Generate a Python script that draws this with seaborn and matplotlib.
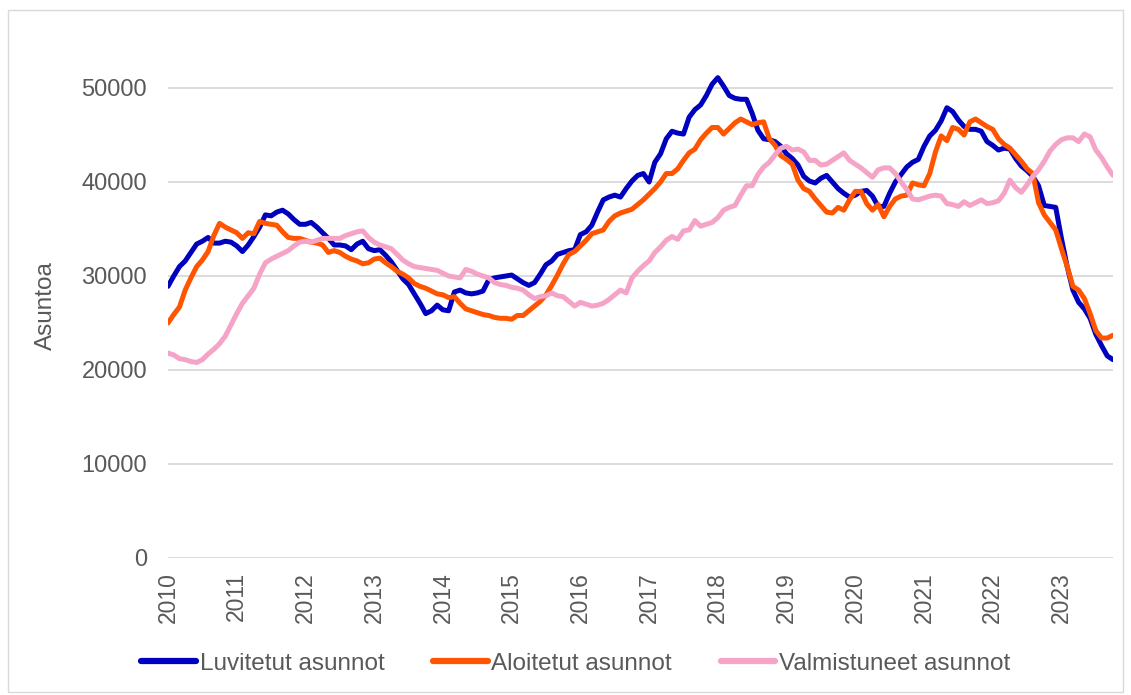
import matplotlib
matplotlib.use("Agg")
import matplotlib.pyplot as plt
import seaborn as sns
import pandas as pd
import numpy as np
from matplotlib.patches import Rectangle

# ---- data (thousands of dwellings, monthly 2010-01 .. 2023-10) ----
years = [str(y) for y in range(2010, 2024)]

luvitetut = [28.9, 30.0, 31.0, 31.6, 32.5, 33.4, 33.7, 34.1, 33.5, 33.5, 33.7, 33.6,
             33.2, 32.6, 33.3, 34.2, 35.2, 36.5, 36.4, 36.8, 37.0, 36.6, 36.0, 35.5,
             35.5, 35.7, 35.2, 34.6, 34.0, 33.3, 33.3, 33.2, 32.8, 33.4, 33.7, 32.9,
             32.7, 32.8, 32.2, 31.5, 30.6, 29.7, 29.1, 28.1, 27.1, 26.0, 26.3, 26.9,
             26.4, 26.3, 28.3, 28.5, 28.2, 28.1, 28.2, 28.4, 29.6, 29.8, 29.9, 30.0,
             30.1, 29.7, 29.3, 29.0, 29.3, 30.2, 31.2, 31.6, 32.3, 32.5, 32.7, 32.8,
             34.4, 34.7, 35.4, 36.8, 38.1, 38.4, 38.6, 38.4, 39.3, 40.1, 40.7, 40.9,
             40.0, 42.1, 43.0, 44.6, 45.4, 45.2, 45.1, 46.9, 47.7, 48.2, 49.2, 50.4,
             51.1, 50.2, 49.2, 48.9, 48.8, 48.8, 47.3, 45.5, 44.6, 44.5, 44.3, 43.8,
             43.0, 42.5, 41.8, 40.6, 40.1, 39.9, 40.4, 40.7, 40.0, 39.3, 38.8, 38.4,
             38.6, 39.0, 39.1, 38.5, 37.4, 37.4, 38.8, 40.0, 40.8, 41.6, 42.1, 42.4,
             43.8, 44.9, 45.5, 46.5, 47.9, 47.5, 46.6, 45.9, 45.6, 45.6, 45.4, 44.3,
             43.9, 43.4, 43.6, 43.5, 42.5, 41.7, 41.2, 40.6, 39.6, 37.5, 37.4, 37.3,
             34.0, 31.0, 28.5, 27.2, 26.5, 25.5, 23.8, 22.6, 21.5, 21.1]

aloitetut = [25.0, 25.9, 26.7, 28.5, 29.8, 31.0, 31.7, 32.6, 34.3, 35.6, 35.2, 34.9,
             34.6, 34.0, 34.6, 34.5, 35.8, 35.6, 35.5, 35.4, 34.7, 34.1, 34.0, 34.0,
             33.8, 33.6, 33.5, 33.3, 32.5, 32.7, 32.5, 32.1, 31.8, 31.6, 31.3, 31.4,
             31.8, 31.9, 31.4, 31.0, 30.5, 30.2, 29.8, 29.2, 28.9, 28.7, 28.4, 28.1,
             28.0, 27.7, 27.8, 27.1, 26.5, 26.3, 26.1, 25.9, 25.8, 25.6, 25.5, 25.5,
             25.4, 25.8, 25.8, 26.3, 26.8, 27.3, 28.0, 29.0, 30.1, 31.3, 32.3, 32.6,
             33.2, 33.8, 34.5, 34.7, 34.9, 35.8, 36.4, 36.7, 36.9, 37.1, 37.6, 38.1,
             38.7, 39.3, 40.0, 40.9, 40.9, 41.4, 42.3, 43.1, 43.5, 44.5, 45.2, 45.8,
             45.8, 45.1, 45.7, 46.3, 46.7, 46.4, 46.1, 46.3, 46.4, 44.6, 43.9, 42.8,
             42.4, 41.9, 40.2, 39.3, 39.0, 38.2, 37.5, 36.8, 36.7, 37.3, 37.0, 38.1,
             39.0, 39.0, 37.7, 37.0, 37.6, 36.3, 37.4, 38.2, 38.5, 38.6, 39.9, 39.7,
             39.6, 40.9, 43.2, 44.9, 44.4, 45.8, 45.6, 45.0, 46.4, 46.7, 46.3, 45.9,
             45.6, 44.6, 44.0, 43.6, 42.9, 42.2, 41.4, 40.9, 37.8, 36.5, 35.7, 34.9,
             32.9, 31.0, 28.9, 28.5, 27.6, 26.0, 24.2, 23.4, 23.4, 23.7]

valmistuneet = [21.8, 21.6, 21.2, 21.1, 20.9, 20.8, 21.1, 21.7, 22.2, 22.8, 23.6, 24.8,
                26.0, 27.1, 27.9, 28.7, 30.2, 31.4, 31.8, 32.1, 32.4, 32.7, 33.2, 33.6,
                33.7, 33.6, 33.8, 34.0, 34.0, 34.0, 34.0, 34.3, 34.5, 34.7, 34.8, 34.1,
                33.6, 33.3, 33.1, 32.9, 32.3, 31.7, 31.3, 31.0, 30.9, 30.8, 30.7, 30.6,
                30.3, 30.0, 29.9, 29.8, 30.7, 30.5, 30.2, 30.0, 29.8, 29.3, 29.1, 29.0,
                28.8, 28.7, 28.5, 28.0, 27.6, 27.8, 27.9, 28.2, 27.9, 27.8, 27.3, 26.8,
                27.2, 27.0, 26.8, 26.9, 27.1, 27.5, 28.0, 28.5, 28.2, 29.8, 30.5, 31.1,
                31.6, 32.5, 33.1, 33.8, 34.2, 33.9, 34.8, 34.9, 35.9, 35.3, 35.5, 35.7,
                36.2, 37.0, 37.3, 37.5, 38.6, 39.6, 39.6, 40.8, 41.6, 42.1, 42.9, 43.6,
                43.8, 43.4, 43.5, 43.2, 42.3, 42.3, 41.8, 41.9, 42.3, 42.7, 43.1, 42.3,
                41.9, 41.5, 41.0, 40.5, 41.3, 41.5, 41.5, 40.9, 40.0, 39.2, 38.2, 38.1,
                38.3, 38.5, 38.6, 38.5, 37.7, 37.6, 37.4, 37.9, 37.5, 37.8, 38.1, 37.7,
                37.8, 38.0, 38.8, 40.2, 39.4, 38.9, 39.7, 40.6, 41.3, 42.2, 43.3, 44.0,
                44.5, 44.7, 44.7, 44.3, 45.1, 44.8, 43.4, 42.6, 41.6, 40.7]

series_names = ["Luvitetut asunnot", "Aloitetut asunnot", "Valmistuneet asunnot"]
colors = ["#0000BF", "#FF5500", "#F5A3C7"]

# ---- long-form table ----
n = len(luvitetut)
frames = []
for name, vals in zip(series_names, [luvitetut, aloitetut, valmistuneet]):
    frames.append(pd.DataFrame({"kk": np.arange(len(vals)),
                                "Asuntoa": np.array(vals) * 1000,
                                "Sarja": name}))
df = pd.concat(frames, ignore_index=True)

sns.set_style("white")
plt.rcParams["font.family"] = ["Liberation Sans", "DejaVu Sans"]

fig = plt.figure(figsize=(11.31, 6.95), dpi=100)
ax = fig.add_axes([168 / 1131, (695 - 558) / 695, (1113 - 168) / 1131, (558 - 41) / 695])

sns.lineplot(data=df, x="kk", y="Asuntoa", hue="Sarja", hue_order=series_names,
             palette=colors, linewidth=3.6, ax=ax, legend=False,
             solid_capstyle="round", solid_joinstyle="round")

ax.set_xlim(0, n - 1)
ax.set_ylim(0, 55000)
ax.set_yticks(range(0, 50001, 10000))
ax.set_yticklabels([str(v) for v in range(0, 50001, 10000)])
ax.set_xticks(range(0, 12 * len(years), 12))
ax.set_xticklabels(years, rotation=90)

ax.yaxis.grid(True, color="#D9D9D9", linewidth=1.3)
ax.xaxis.grid(False)
ax.set_axisbelow(True)
for s in ax.spines.values():
    s.set_visible(False)

ax.tick_params(axis="y", length=0, pad=15, labelsize=17, labelcolor="#595959")
ax.tick_params(axis="x", length=0, pad=10, labelsize=16.5, labelcolor="#595959")

ax.set_xlabel("")
ax.set_ylabel("Asuntoa", fontsize=17.5, color="#595959")
ax.yaxis.set_label_coords(-0.1175, 0.489)

# legend
from matplotlib.lines import Line2D
handles = [Line2D([0], [0], color=c, lw=4.5, solid_capstyle="round") for c in colors]
leg = fig.legend(handles, series_names, loc="center", bbox_to_anchor=(0.509, 0.045),
                 ncol=3, frameon=False, fontsize=17.5, handlelength=2.25,
                 handletextpad=0.15, columnspacing=2.0)
for t in leg.get_texts():
    t.set_color("#595959")

# outer chart border
fig.patches.append(Rectangle((8 / 1131, 3 / 695), 1115 / 1131, 682 / 695,
                             transform=fig.transFigure, fill=False,
                             edgecolor="#D9D9D9", linewidth=1.0))

fig.savefig("out.png", dpi=100)
